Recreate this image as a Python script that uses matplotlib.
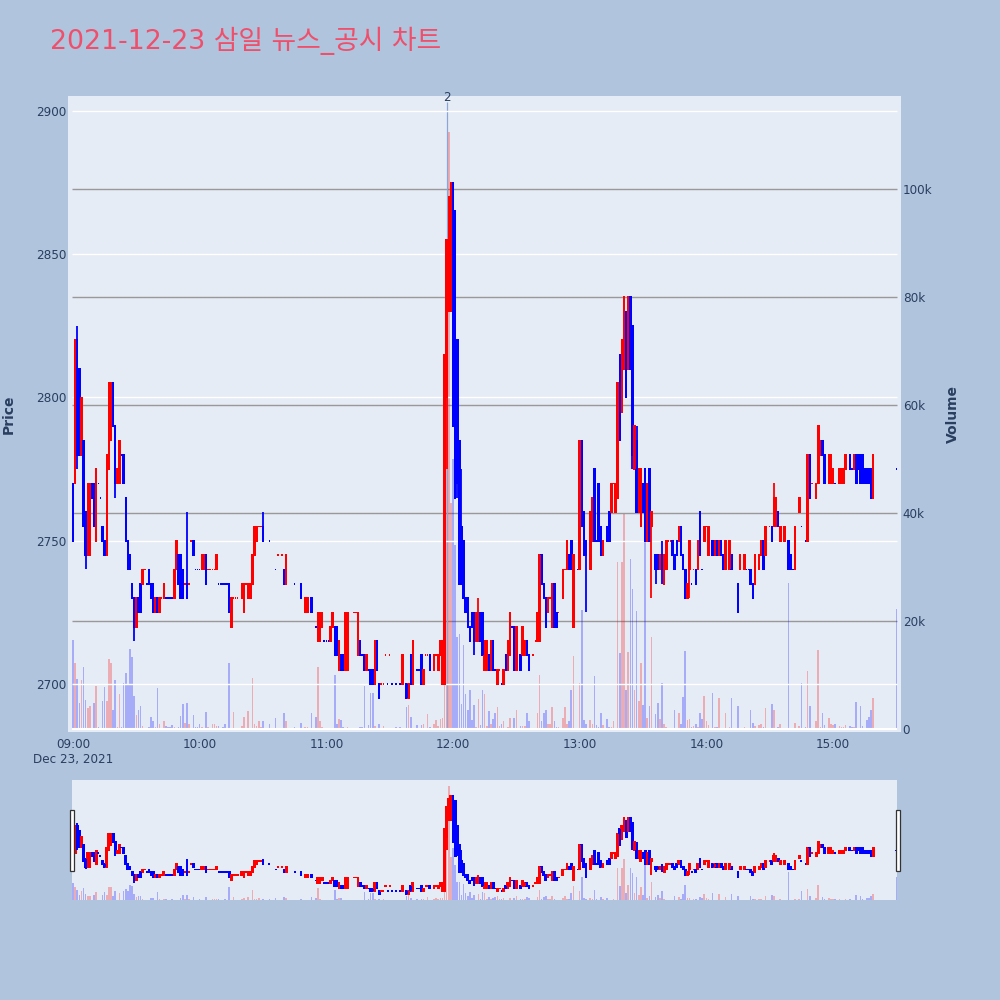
import matplotlib
matplotlib.use('Agg')
import matplotlib.pyplot as plt
from matplotlib.patches import Rectangle

# ==========================
# DATA (1 minute candles, minutes after 09:00)
# ==========================
minute = [0,1,2,3,4,5,6,7,8,9,
    10,11,12,13,14,15,16,17,18,19,
    20,21,22,23,24,25,26,27,28,29,
    30,31,32,33,34,35,36,37,38,39,
    40,41,42,43,44,45,46,47,48,49,
    50,51,52,53,54,55,56,57,58,59,
    60,61,62,63,64,65,66,67,68,69,
    70,71,72,73,74,75,76,77,78,80,
    81,82,83,84,85,86,87,88,89,90,
    93,96,97,99,100,101,105,108,110,111,
    113,115,116,117,118,119,120,121,122,123,
    124,125,126,127,128,129,130,133,134,135,
    136,137,138,139,140,141,142,143,144,145,
    146,147,148,149,150,151,153,155,156,158,
    159,160,161,163,164,165,166,167,168,169,
    171,172,173,174,175,176,177,178,179,180,
    181,182,183,184,185,186,187,188,189,190,
    191,192,193,194,195,196,197,198,199,200,
    201,202,203,204,205,206,207,208,209,210,
    212,213,214,215,216,218,219,220,221,222,
    223,224,225,226,227,228,229,230,232,233,
    234,235,236,237,239,240,241,242,243,245,
    246,247,248,249,250,251,253,254,255,256,
    257,258,259,260,261,262,263,264,265,266,
    267,268,269,270,271,272,273,274,276,277,
    278,279,280,281,282,283,284,285,286,287,
    288,289,290,291,292,293,294,295,296,297,
    298,299,300,301,303,304,305,306,307,308,
    309,311,312,315,316,318,319,320,321,322,
    323,325,326,327,328,330,331,332,333,334,
    335,337,339,340,341,342,344,345,347,348,
    349,350,352,353,354,355,356,358,359,360,
    361,363,364,365,366,368,369,370,371,372,
    373,374,375,376,377,378,379,390]

open_ = [2770,2770,2820,2810,2780,2785,2760,2745,2745,2770,
    2770,2750,2770,2765,2755,2750,2745,2775,2785,2805,
    2790,2770,2770,2780,2780,2765,2750,2745,2735,2730,
    2720,2730,2735,2735,2740,2735,2740,2735,2735,2725,
    2730,2725,2730,2730,2730,2730,2730,2730,2730,2740,
    2745,2745,2740,2735,2735,2735,2750,2750,2740,2740,
    2740,2740,2740,2745,2740,2740,2740,2740,2740,2735,
    2735,2735,2735,2735,2735,2720,2730,2730,2730,2730,
    2725,2735,2730,2730,2735,2745,2750,2755,2755,2755,
    2750,2740,2745,2745,2740,2735,2735,2735,2725,2725,
    2730,2720,2715,2715,2720,2715,2715,2715,2715,2720,
    2720,2720,2705,2710,2710,2705,2705,2725,2725,2710,
    2715,2710,2710,2705,2705,2705,2705,2700,2715,2700,
    2700,2700,2710,2700,2710,2700,2700,2700,2700,2700,
    2695,2710,2700,2705,2705,2710,2700,2710,2710,2710,
    2705,2710,2705,2710,2700,2700,2800,2830,2830,2875,
    2865,2820,2785,2755,2750,2730,2730,2720,2725,2725,
    2715,2715,2725,2725,2705,2705,2710,2705,2715,2705,
    2700,2705,2700,2700,2710,2705,2710,2720,2720,2705,
    2710,2710,2710,2715,2710,2710,2715,2715,2715,2745,
    2735,2730,2725,2730,2720,2735,2725,2725,2730,2740,
    2740,2745,2750,2720,2740,2740,2785,2760,2750,2740,
    2750,2775,2750,2770,2755,2745,2755,2760,2760,2770,
    2760,2765,2815,2795,2810,2830,2810,2835,2825,2775,
    2785,2760,2755,2770,2775,2750,2775,2755,2745,2745,
    2740,2745,2735,2740,2750,2750,2750,2745,2750,2750,
    2755,2745,2740,2730,2740,2735,2740,2740,2740,2760,
    2740,2750,2755,2745,2750,2745,2750,2745,2750,2745,
    2740,2740,2745,2735,2740,2740,2740,2740,2740,2735,
    2735,2740,2745,2750,2745,2755,2755,2755,2755,2760,
    2750,2750,2750,2745,2740,2740,2760,2755,2750,2750,
    2780,2770,2765,2770,2780,2785,2780,2770,2770,2770,
    2770,2770,2770,2770,2775,2780,2775,2775,2780,2780,
    2780,2780,2775,2775,2775,2775,2765,2775]

high = [2770,2820,2825,2810,2800,2785,2760,2770,2770,2770,
    2770,2775,2770,2765,2755,2750,2780,2805,2805,2805,
    2790,2775,2785,2780,2780,2765,2750,2745,2735,2730,
    2730,2730,2735,2740,2740,2735,2740,2735,2735,2730,
    2730,2730,2730,2735,2730,2730,2730,2730,2740,2750,
    2745,2745,2740,2735,2760,2735,2750,2750,2740,2740,
    2740,2745,2745,2745,2740,2740,2740,2740,2745,2735,
    2735,2735,2735,2735,2735,2730,2730,2730,2730,2735,
    2735,2735,2735,2735,2745,2755,2755,2755,2755,2760,
    2750,2740,2745,2745,2740,2745,2735,2735,2730,2730,
    2730,2720,2725,2725,2725,2715,2715,2715,2720,2725,
    2720,2720,2715,2710,2710,2725,2725,2725,2725,2725,
    2715,2710,2710,2710,2705,2705,2705,2715,2715,2700,
    2700,2700,2710,2700,2710,2700,2700,2700,2710,2700,
    2700,2710,2715,2705,2705,2710,2705,2710,2710,2710,
    2710,2710,2710,2715,2715,2815,2855,2870,2875,2875,
    2865,2820,2785,2775,2750,2730,2730,2720,2725,2725,
    2725,2730,2725,2725,2715,2715,2710,2715,2715,2705,
    2705,2705,2700,2705,2710,2715,2725,2720,2720,2720,
    2710,2720,2715,2715,2710,2710,2715,2725,2745,2745,
    2735,2730,2730,2730,2735,2735,2725,2725,2740,2740,
    2750,2745,2750,2745,2740,2785,2785,2760,2750,2760,
    2765,2775,2750,2770,2755,2750,2755,2760,2770,2770,
    2770,2805,2815,2820,2835,2830,2835,2835,2825,2790,
    2790,2775,2775,2770,2775,2770,2775,2760,2745,2745,
    2745,2750,2745,2750,2750,2750,2750,2745,2750,2755,
    2755,2745,2740,2735,2750,2735,2740,2740,2750,2760,
    2740,2755,2755,2755,2750,2750,2750,2750,2750,2745,
    2750,2750,2745,2735,2745,2745,2740,2740,2740,2735,
    2745,2745,2750,2750,2755,2755,2755,2770,2765,2760,
    2755,2755,2750,2745,2740,2755,2765,2755,2750,2780,
    2780,2770,2770,2790,2785,2785,2780,2780,2780,2775,
    2770,2775,2775,2775,2780,2780,2775,2780,2780,2780,
    2780,2780,2775,2775,2775,2775,2780,2775]

low = [2750,2770,2775,2780,2780,2755,2740,2745,2745,2765,
    2755,2750,2770,2765,2750,2745,2745,2775,2785,2790,
    2765,2770,2770,2780,2770,2750,2740,2740,2730,2715,
    2720,2725,2725,2735,2740,2735,2735,2730,2725,2725,
    2725,2725,2730,2730,2730,2730,2730,2730,2730,2740,
    2735,2730,2730,2735,2730,2735,2750,2745,2740,2740,
    2740,2740,2740,2735,2740,2740,2740,2740,2740,2735,
    2735,2735,2735,2735,2725,2720,2730,2730,2730,2730,
    2725,2735,2730,2730,2735,2745,2750,2755,2755,2750,
    2750,2740,2745,2745,2735,2735,2735,2730,2725,2725,
    2725,2720,2715,2715,2720,2715,2715,2715,2715,2720,
    2710,2710,2705,2705,2705,2705,2705,2725,2725,2710,
    2710,2710,2705,2705,2705,2700,2700,2700,2705,2695,
    2700,2700,2710,2700,2710,2700,2700,2700,2700,2695,
    2695,2700,2700,2705,2705,2700,2700,2710,2710,2705,
    2705,2710,2705,2710,2700,2700,2775,2830,2830,2790,
    2765,2765,2735,2735,2730,2725,2720,2715,2720,2710,
    2715,2715,2715,2710,2705,2705,2705,2705,2705,2705,
    2700,2705,2700,2700,2705,2705,2710,2720,2705,2705,
    2705,2710,2710,2710,2705,2710,2715,2715,2715,2735,
    2730,2720,2725,2730,2720,2720,2720,2725,2730,2740,
    2740,2740,2740,2720,2740,2740,2755,2745,2725,2740,
    2750,2750,2750,2750,2745,2745,2750,2750,2760,2770,
    2760,2765,2785,2795,2810,2800,2810,2810,2775,2775,
    2760,2760,2755,2760,2750,2750,2750,2730,2735,2740,
    2740,2735,2735,2740,2750,2750,2745,2740,2745,2750,
    2745,2740,2730,2730,2730,2735,2740,2735,2740,2745,
    2740,2750,2755,2745,2745,2745,2745,2745,2745,2740,
    2740,2740,2740,2725,2740,2740,2740,2740,2735,2730,
    2735,2740,2745,2740,2745,2755,2750,2755,2755,2755,
    2750,2750,2740,2740,2740,2740,2760,2755,2750,2750,
    2765,2770,2765,2770,2780,2780,2770,2770,2770,2770,
    2770,2770,2770,2770,2775,2775,2775,2775,2770,2775,
    2770,2770,2770,2770,2770,2765,2765,2775]

close = [2750,2820,2780,2780,2800,2755,2745,2770,2770,2765,
    2755,2775,2770,2765,2750,2745,2780,2805,2805,2790,
    2770,2775,2785,2780,2770,2750,2740,2740,2730,2720,
    2730,2725,2725,2740,2740,2735,2735,2730,2725,2730,
    2725,2730,2730,2735,2730,2730,2730,2730,2740,2750,
    2735,2730,2730,2735,2730,2735,2750,2745,2740,2740,
    2740,2745,2745,2735,2740,2740,2740,2740,2745,2735,
    2735,2735,2735,2735,2725,2730,2730,2730,2730,2735,
    2735,2735,2735,2735,2745,2755,2755,2755,2755,2750,
    2750,2740,2745,2745,2735,2745,2735,2730,2730,2730,
    2725,2720,2725,2725,2725,2715,2715,2715,2720,2725,
    2710,2710,2715,2705,2705,2725,2725,2725,2725,2725,
    2710,2710,2705,2710,2705,2700,2700,2715,2705,2695,
    2700,2700,2710,2700,2710,2700,2700,2700,2710,2695,
    2700,2700,2715,2705,2705,2700,2705,2710,2710,2705,
    2710,2710,2710,2715,2715,2815,2855,2870,2875,2790,
    2765,2770,2735,2735,2730,2725,2720,2715,2720,2715,
    2725,2725,2715,2710,2715,2715,2705,2715,2705,2705,
    2705,2705,2700,2705,2705,2715,2725,2720,2705,2720,
    2705,2720,2715,2710,2705,2710,2715,2725,2745,2735,
    2730,2720,2730,2730,2735,2720,2720,2725,2740,2740,
    2750,2740,2740,2745,2740,2785,2755,2745,2745,2760,
    2765,2750,2750,2750,2745,2750,2750,2750,2770,2770,
    2770,2805,2785,2820,2835,2800,2835,2810,2780,2790,
    2760,2775,2775,2760,2750,2770,2750,2760,2740,2740,
    2745,2740,2745,2750,2750,2750,2745,2740,2745,2755,
    2745,2740,2730,2735,2750,2735,2740,2735,2750,2745,
    2740,2755,2755,2755,2745,2750,2745,2750,2745,2740,
    2750,2750,2740,2725,2745,2745,2740,2740,2735,2730,
    2745,2745,2750,2740,2755,2755,2750,2765,2765,2755,
    2755,2755,2740,2740,2740,2755,2765,2755,2750,2780,
    2765,2770,2770,2790,2785,2780,2770,2780,2780,2775,
    2770,2775,2775,2775,2780,2775,2775,2780,2770,2775,
    2770,2770,2770,2770,2770,2765,2780,2775]

volume = [16.4,12.3,9.3,4.9,9.1,11.4,5.4,3.8,4.3,.2,
    4.9,8,.3,.1,5.2,7.8,5.2,12.9,12.3,3.5,
    9.1,.3,6.5,.3,8.5,10.3,8.3,14.9,13.4,6.1,
    2.6,3.5,4.3,.5,.1,.1,.4,2.2,1.5,.4,
    7.5,1,.1,1.4,.5,.4,.4,.7,.3,.1,
    .3,2.4,4.6,1.2,4.8,.9,.1,2.6,.3,.3,
    1,.4,.1,3.2,.3,.1,.9,.9,.5,.5,
    .1,.4,.9,.1,12.3,.1,3.1,.1,.1,.5,
    2.2,.1,3.3,.2,9.5,1,.5,1.5,.4,1.4,
    1,2,.1,.1,3,1.5,.3,1.1,.4,.4,
    3,2.2,11.5,1.4,.4,.1,.1,.1,.1,.1,
    10,1,1.9,1.7,.4,.1,.3,.1,.1,.1,
    .4,.3,8,.1,.7,6.6,6.6,.5,.1,.9,
    .1,.5,.1,.1,.1,.2,.3,.3,.1,4,
    4.4,2.2,.1,.7,.1,.7,.9,.1,2.7,.3,
    1,1.7,.6,1.9,2,8.1,65,110.6,41.8,50,
    34,17,17.5,4.7,15.5,6.5,3.5,7.3,1.7,4.4,
    .4,5.5,.7,7.3,6.5,.5,3.3,.9,1.8,3,
    4.1,.5,1,1.5,.1,.3,2,.2,2,3.6,
    .5,.5,.5,2.9,1.5,.2,.1,3,10,1.4,
    2.9,3.5,.9,1,4.1,1.4,.4,.3,2,4,
    1,1.4,7.2,13.6,.2,8.5,22,1.7,1,1.6,
    .9,9.9,.8,.3,3,.8,1.8,.4,.4,1.4,
    .2,31,14,31,39.8,7.2,14.3,31.4,26,7.2,
    21.9,5.2,12.3,4.4,35,2,4.3,17,2.8,4.9,
    1.8,8.6,1,.4,.1,.1,.1,3.5,.1,3,
    1,6,14.4,1.7,1.8,.4,.5,.9,.4,2.9,
    1.9,6.1,1.5,.7,6.6,.4,.4,5.8,.1,.1,
    2.9,.4,5.8,4.3,.2,.3,.1,.1,3.5,1.1,
    .5,.7,.9,.3,3.8,.1,4.6,3.6,.1,.4,
    .9,.2,27,.1,.1,1.2,.5,8.5,.3,10.8,
    4.3,.1,1.5,14.6,.3,2.9,.7,2,1,.7,
    .9,.6,.3,.3,.7,.5,.3,.3,5,.1,
    4.3,.5,.1,1.7,2.3,3.6,5.7,22.3]

price_ticks = [2700, 2750, 2800, 2850, 2900]
vol_ticks = [0, 20, 40, 60, 80, 100]
vol_labels = ['0', '20k', '40k', '60k', '80k', '100k']
time_ticks = [0, 60, 120, 180, 240, 300, 360]
time_labels = ['09:00\nDec 23, 2021', '10:00', '11:00', '12:00', '13:00', '14:00', '15:00']
news_minute = 177.3

BG = '#b0c4de'
PLOT = '#e5ecf6'
INK = '#2a3f5f'
RED = '#ff0000'
BLUE = '#0000ff'
XL, XR = -0.47, 390.3

# plotly rule: same close as open -> compare to previous close
colors = []
for i in range(len(close)):
    if close[i] > open_[i]:
        colors.append(RED)
    elif close[i] < open_[i]:
        colors.append(BLUE)
    elif i == 0 or close[i] > close[i-1]:
        colors.append(RED)
    elif close[i] < close[i-1]:
        colors.append(BLUE)
    else:
        colors.append(colors[-1])


def draw_candles(ax_p, ax_v, wick, body_w, dot_w, pad):
    ax_v.bar(minute, volume, width=0.75, color=colors, alpha=0.27, linewidth=0)
    ax_p.vlines(minute, low, high, colors=colors, lw=wick)
    # the outline of a plotly box sticks out past open and close, hence pad
    bottoms = [min(a, b) - pad for a, b in zip(open_, close)]
    heights = [abs(a - b) + 2 * pad for a, b in zip(open_, close)]
    widths = [body_w if a != b else dot_w for a, b in zip(open_, close)]
    ax_p.bar(minute, heights, bottom=bottoms, width=widths, color=colors, linewidth=0)


fig = plt.figure(figsize=(10, 10), dpi=100, facecolor=BG)

# main plot: volume behind, price on top
ax_v = fig.add_axes([0.068, 0.268, 0.833, 0.636], facecolor=PLOT)
ax_p = ax_v.twinx()
ax_p.patch.set_visible(False)

ax_v.set_xlim(-2.37, 392.2)
ax_v.set_ylim(-0.556, 117.2)
ax_p.set_ylim(2683.25, 2905.2)

ax_p.hlines(price_ticks, XL, XR, colors='white', lw=1.0, zorder=0.5)
ax_v.hlines(vol_ticks[1:], XL, XR, colors='#999999', lw=1.0, zorder=0.5)
ax_v.hlines([0], XL, XR, colors='white', lw=1.5, zorder=3)
ax_v.vlines([news_minute], 0, 116, colors='#8aa5d6', lw=0.9, zorder=0.6)

draw_candles(ax_p, ax_v, 1.3, 1.2, 0.7, 0.3)

for a in (ax_v, ax_p):
    for s in a.spines.values():
        s.set_visible(False)

ax_v.set_xticks(time_ticks)
ax_v.set_xticklabels(time_labels, fontsize=8.64, color=INK, linespacing=1.2)
ax_v.tick_params(axis='x', length=0, pad=4)
ax_v.set_yticks(vol_ticks)
ax_v.set_yticklabels(vol_labels, fontsize=8.64, color=INK)
ax_v.yaxis.tick_right()
ax_v.tick_params(axis='y', length=0, pad=1.2)
ax_p.set_yticks(price_ticks)
ax_p.set_yticklabels([str(t) for t in price_ticks], fontsize=8.64, color=INK)
ax_p.yaxis.tick_left()
ax_p.tick_params(axis='y', length=0, pad=1)

ax_p.annotate('2', xy=(news_minute, 1), xycoords=('data', 'axes fraction'), xytext=(0, -1),
    textcoords='offset points', ha='center', va='center', fontsize=8.64, color=INK)

fig.text(0.009, 0.586, 'Price', rotation=90, ha='center', va='center', fontsize=10, fontweight='bold', color=INK)
fig.text(0.953, 0.586, 'Volume', rotation=90, ha='center', va='center', fontsize=10, fontweight='bold', color=INK)
fig.text(0.05, 0.959, '2021-12-23 삼일 뉴스_공시 차트', ha='left', va='center', fontsize=19.3, color='#ef4f6b',
    family=['DejaVu Sans', 'Noto Sans CJK KR'])

# range slider
sl_v = fig.add_axes([0.072, 0.10, 0.825, 0.12], facecolor=PLOT)
sl_p = sl_v.twinx()
sl_p.patch.set_visible(False)
sl_v.set_xlim(XL, XR)
sl_v.set_ylim(0, 116.5)
sl_p.set_ylim(2684, 2904)
draw_candles(sl_p, sl_v, 1.4, 1.35, 1.0, 1.5)
for a in (sl_v, sl_p):
    for s in a.spines.values():
        s.set_visible(False)
    a.set_xticks([])
    a.set_yticks([])

# slider handles
for x0 in (0.0695, 0.8955):
    fig.add_artist(Rectangle((x0, 0.1295), 0.0045, 0.0605, transform=fig.transFigure,
        facecolor='white', edgecolor='#333333', lw=0.9))

fig.savefig('out.png', dpi=100, facecolor=BG)
